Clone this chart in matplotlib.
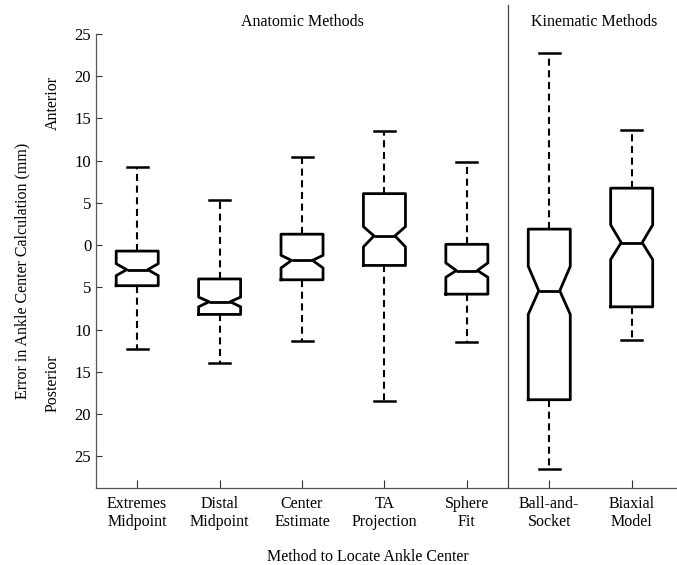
#!/usr/bin/env python3
"""Notched box plots of ankle centre error for each locating method."""

import matplotlib

matplotlib.use("Agg")
import matplotlib.pyplot as plt
import numpy as np

plt.rcParams["font.family"] = ["Liberation Serif", "DejaVu Serif"]

# values (mm, anterior positive)
methods = ["Extremes\nMidpoint", "Distal\nMidpoint", "Center\nEstimate", "TA\nProjection",
           "Sphere\nFit", "Ball-and-\nSocket", "Biaxial\nModel"]
whisker_hi = [9.2, 5.4, 10.4, 13.5, 9.8, 22.8, 13.6]
q3 = [-0.7, -4.0, 1.3, 6.1, 0.1, 1.9, 6.75]
notch_hi = [-2.2, -6.15, -1.2, 2.2, -2.1, -2.5, 2.4]
medians = [-2.9, -6.7, -1.8, 1.1, -3.0, -5.4, 0.3]
notch_lo = [-3.6, -7.3, -2.7, -0.2, -3.8, -8.2, -1.7]
q1 = [-4.8, -8.2, -4.1, -2.4, -5.8, -18.3, -7.3]
whisker_lo = [-12.3, -13.9, -11.4, -18.5, -11.5, -26.5, -11.2]
y_ticks = [-25, -20, -15, -10, -5, 0, 5, 10, 15, 20, 25]
n_anatomic = 5


def main() -> None:
    stats = []
    for i, name in enumerate(methods):
        stats.append({
            "label": name,
            "med": medians[i],
            "q1": q1[i],
            "q3": q3[i],
            "cilo": notch_lo[i],
            "cihi": notch_hi[i],
            "whislo": whisker_lo[i],
            "whishi": whisker_hi[i],
            "fliers": [],
        })

    fig = plt.figure(figsize=(6.77, 5.65), dpi=100)
    ax = fig.add_axes([0.1418, 0.1363, 0.8582, 0.8035])
    positions = np.arange(1, len(methods) + 1)
    ax.bxp(
        stats,
        positions=positions,
        widths=0.51,
        shownotches=True,
        showfliers=False,
        boxprops=dict(color="black", linewidth=2.0),
        medianprops=dict(color="black", linewidth=2.0),
        whiskerprops=dict(color="black", linewidth=1.5, linestyle=(0, (3.4, 2.2))),
        capprops=dict(color="black", linewidth=1.8),
    )

    ax.set_xlim(0.5, 7.55)
    ax.set_ylim(-28.75, 25)
    ax.set_yticks(y_ticks)
    ax.set_yticklabels([str(abs(t)) for t in y_ticks], fontsize=12)
    ax.set_xticks(positions)
    ax.set_xticklabels(methods, fontsize=11.5, linespacing=1.15)
    ax.tick_params(direction="in", length=4, width=0.8, color="#333333")
    ax.tick_params(axis="x", length=6, pad=6)
    for side in ("top", "right"):
        ax.spines[side].set_visible(False)
    for side in ("left", "bottom"):
        ax.spines[side].set_color("#555555")
        ax.spines[side].set_linewidth(0.9)

    sep = n_anatomic + 0.5
    ax.axvline(sep, ymin=0, ymax=1.064, color="#444444", linewidth=0.9, clip_on=False)

    ax.text(3.0, 1.0265, "Anatomic Methods", transform=ax.get_xaxis_transform(),
            ha="center", va="center", fontsize=11.5)
    ax.text(6.55, 1.0265, "Kinematic Methods", transform=ax.get_xaxis_transform(),
            ha="center", va="center", fontsize=11.5)

    ax.set_xlabel("Method to Locate Ankle Center", fontsize=11.5, labelpad=14)
    ax.xaxis.set_label_coords(0.468, -0.135)
    fig.text(0.033, 0.52, "Error in Ankle Center Calculation (mm)", rotation=90,
             ha="center", va="center", fontsize=11.5)
    ax.text(-0.075, 0.848, "Anterior", transform=ax.transAxes, rotation=90,
            ha="center", va="center", fontsize=11.5)
    ax.text(-0.075, 0.231, "Posterior", transform=ax.transAxes, rotation=90,
            ha="center", va="center", fontsize=11.5)

    fig.savefig("out.png", dpi=100)


if __name__ == "__main__":
    main()
